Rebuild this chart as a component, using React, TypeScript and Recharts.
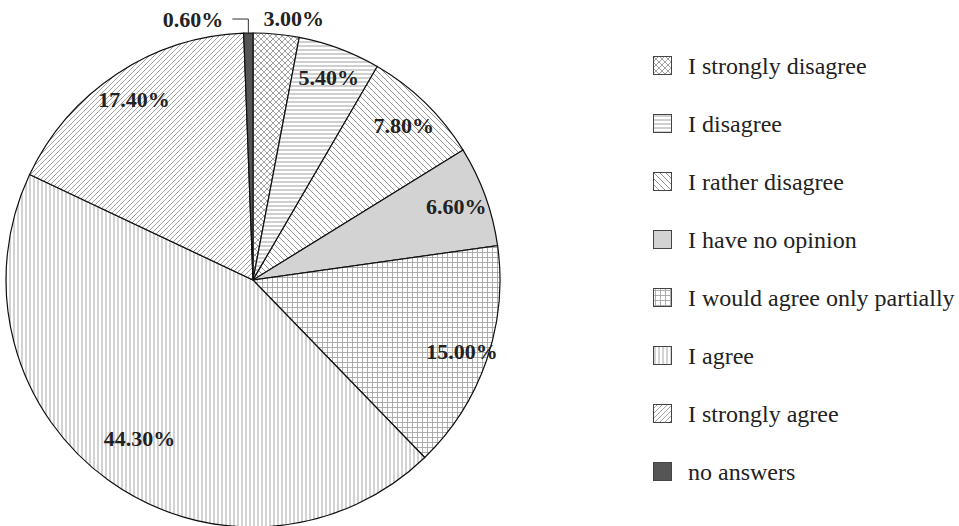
import React from 'react';
import { PieChart, Pie, Cell, Legend } from 'recharts';

// answer categories, clockwise from the top
const answers = [
    'I strongly disagree',
    'I disagree',
    'I rather disagree',
    'I have no opinion',
    'I would agree only partially',
    'I agree',
    'I strongly agree',
    'no answers',
];
const shares = [3.0, 5.4, 7.8, 6.6, 15.0, 44.3, 17.4, 0.6];
const fills = [
    'url(#crossHatch)',
    'url(#horizLines)',
    'url(#backDiag)',
    '#d3d3d3',
    'url(#gridDots)',
    'url(#vertLines)',
    'url(#fwdDiag)',
    '#555555',
];

const data = answers.map((name, i) => ({ name, value: shares[i] }));

const RAD = Math.PI / 180;
const serif = '"Times New Roman", "Liberation Serif", "DejaVu Serif", serif';
const labelFont = { fontFamily: serif, fontWeight: 700, fontSize: 22, fill: '#222' };

const renderLabel = (props: any) => {
    const { cx, cy, midAngle, outerRadius, index, value } = props;
    const text = value.toFixed(2) + '%';
    const cos = Math.cos(-midAngle * RAD);
    const sin = Math.sin(-midAngle * RAD);
    if (index === 7) {
        // tiny slice: leader line up then left
        const x0 = cx + outerRadius * cos;
        const y0 = cy + outerRadius * sin;
        return (
            <g>
                <polyline points={`${x0},${y0} ${x0},${y0 - 14} ${x0 - 16},${y0 - 14}`} fill="none" stroke="#333" strokeWidth={1} />
                <text x={x0 - 25} y={y0 - 14} textAnchor="end" dominantBaseline="central" {...labelFont}>{text}</text>
            </g>
        );
    }
    if (index === 0) {
        const r = outerRadius + 16;
        return (
            <text x={cx + r * cos + 16} y={cy + r * sin} textAnchor="middle" dominantBaseline="central" {...labelFont}>{text}</text>
        );
    }
    const k = index === 5 ? 0.79 : index === 4 ? 0.895 : 0.875;
    const r = outerRadius * k;
    return (
        <text x={cx + r * cos} y={cy + r * sin} textAnchor="middle" dominantBaseline="central" {...labelFont}>{text}</text>
    );
};

const renderLegend = () => (
    <div style={{ fontFamily: serif, fontSize: 24, color: '#222' }}>
        {answers.map((name, i) => (
            <div key={name} style={{ display: 'flex', alignItems: 'center', height: 58 }}>
                <svg width={20} height={20} style={{ marginRight: 15 }}>
                    <rect x={0.5} y={0.5} width={18} height={18} fill={fills[i]} stroke="#444" strokeWidth={1} />
                </svg>
                <span>{name}</span>
            </div>
        ))}
    </div>
);

const App = () => {
    return (
        <div style={{ position: 'absolute', left: 0, top: 0, background: '#fff' }}>
            <PieChart width={959} height={526} margin={{ top: 0, right: 0, bottom: 0, left: 0 }}>
                <defs>
                    <pattern id="crossHatch" patternUnits="userSpaceOnUse" width={6} height={6}>
                        <rect width={6} height={6} fill="#fff" />
                        <path d="M0,0 L6,6 M6,0 L0,6" stroke="#8a8a8a" strokeWidth={0.8} />
                    </pattern>
                    <pattern id="horizLines" patternUnits="userSpaceOnUse" width={4} height={4}>
                        <rect width={4} height={4} fill="#fff" />
                        <line x1={0} y1={2} x2={4} y2={2} stroke="#a0a0a0" strokeWidth={1} />
                    </pattern>
                    <pattern id="backDiag" patternUnits="userSpaceOnUse" width={6} height={6}>
                        <rect width={6} height={6} fill="#fff" />
                        <path d="M0,0 L6,6 M-1,5 L1,7 M5,-1 L7,1" stroke="#8a8a8a" strokeWidth={0.9} />
                    </pattern>
                    <pattern id="gridDots" patternUnits="userSpaceOnUse" width={5} height={5}>
                        <rect width={5} height={5} fill="#fff" />
                        <path d="M0,2.5 L5,2.5 M2.5,0 L2.5,5" stroke="#a5a5a5" strokeWidth={0.9} />
                    </pattern>
                    <pattern id="vertLines" patternUnits="userSpaceOnUse" width={4} height={4}>
                        <rect width={4} height={4} fill="#fff" />
                        <line x1={2} y1={0} x2={2} y2={4} stroke="#a8a8a8" strokeWidth={1} />
                    </pattern>
                    <pattern id="fwdDiag" patternUnits="userSpaceOnUse" width={5} height={5}>
                        <rect width={5} height={5} fill="#fff" />
                        <path d="M0,5 L5,0 M-1,1 L1,-1 M4,6 L6,4" stroke="#8a8a8a" strokeWidth={0.8} />
                    </pattern>
                </defs>
                <Pie
                    data={data}
                    dataKey="value"
                    nameKey="name"
                    cx={253}
                    cy={280}
                    outerRadius={247}
                    startAngle={90}
                    endAngle={-270}
                    stroke="#111"
                    strokeWidth={1.2}
                    label={renderLabel}
                    labelLine={false}
                    isAnimationActive={false}
                >
                    {data.map((d, i) => (
                        <Cell key={d.name} fill={fills[i]} />
                    ))}
                </Pie>
                <Legend
                    layout="vertical"
                    align="right"
                    verticalAlign="top"
                    content={renderLegend}
                    wrapperStyle={{ left: 653, top: 37, width: 306 }}
                />
            </PieChart>
        </div>
    );
};

export default App;
